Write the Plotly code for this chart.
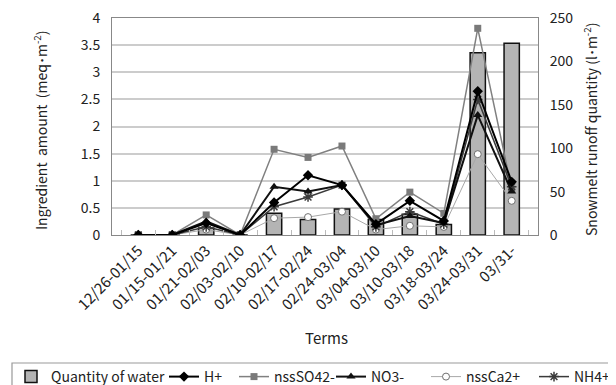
import plotly.graph_objects as go

terms = ["12/26-01/15", "01/15-01/21", "01/21-02/03", "02/03-02/10", "02/10-02/17",
         "02/17-02/24", "02/24-03/04", "03/04-03/10", "03/10-03/18", "03/18-03/24",
         "03/24-03/31", "03/31-"]
water = [0, 0, 8, 0, 25, 18, 30, 18, 24, 12, 210, 221]
h_plus = [0, 0, 0.22, 0, 0.6, 1.1, 0.92, 0.2, 0.63, 0.26, 2.65, 0.98]
nss_so4 = [0, 0, 0.37, 0, 1.58, 1.43, 1.64, 0.3, 0.79, 0.4, 3.81, 0.85]
no3 = [0, 0, 0.25, 0, 0.89, 0.8, 0.92, 0.18, 0.35, 0.22, 2.21, 0.8]
nss_ca = [0, 0, 0.1, 0, 0.31, 0.33, 0.43, 0.1, 0.17, 0.15, 1.49, 0.63]
nh4 = [0, 0, 0.15, 0, 0.52, 0.7, 0.92, 0.15, 0.43, 0.2, 2.5, 0.89]

FONT = "Noto Sans CJK JP"
fig = go.Figure()

fig.add_trace(go.Bar(x=terms, y=water, name="Quantity of water", yaxis="y",
                     marker=dict(color="#b4b4b4", line=dict(color="#111111", width=1.5)),
                     width=0.45, legend="legend", legendrank=1, legendwidth=108))
fig.add_trace(go.Scatter(x=terms, y=nss_ca, name="nssCa2+", yaxis="y2", mode="lines+markers",
                         line=dict(color="#a8a8a8", width=1),
                         marker=dict(symbol="circle", size=7, color="white",
                                     line=dict(color="#707070", width=1)),
                         legend="legend2", legendrank=2, legendwidth=63))
fig.add_trace(go.Scatter(x=terms, y=nss_so4, name="nssSO42-", yaxis="y2", mode="lines+markers",
                         line=dict(color="#808080", width=1.5),
                         marker=dict(symbol="square", size=7, color="#7a7a7a"),
                         legend="legend", legendrank=3, legendwidth=60))
fig.add_trace(go.Scatter(x=terms, y=nh4, name="NH4+", yaxis="y2", mode="lines+markers",
                         line=dict(color="#3a3a3a", width=1.5),
                         marker=dict(symbol="asterisk-open", size=8,
                                     line=dict(color="#222222", width=1.5)),
                         legend="legend2", legendrank=3, legendwidth=38))
fig.add_trace(go.Scatter(x=terms, y=no3, name="NO3-", yaxis="y2", mode="lines+markers",
                         line=dict(color="#111111", width=2),
                         marker=dict(symbol="triangle-up", size=8, color="#111111"),
                         legend="legend2", legendrank=1, legendwidth=50))
fig.add_trace(go.Scatter(x=terms, y=h_plus, name="H+", yaxis="y2", mode="lines+markers",
                         line=dict(color="#000000", width=2),
                         marker=dict(symbol="diamond", size=8, color="#000000"),
                         legend="legend", legendrank=2, legendwidth=25))

# page body has an 8px margin: figure coordinates = screen - 8
def px(fx):
    return (fx - 104) / 426.0

def py(fy):
    return (227 - fy) / 217.0

leg_common = dict(orientation="h", yanchor="middle", xanchor="left",
                  borderwidth=0, bgcolor="rgba(0,0,0,0)", font=dict(size=14),
                  itemwidth=30, traceorder="normal")

fig.update_layout(
    width=608, height=377,
    margin=dict(l=104, r=78, t=10, b=150, autoexpand=False),
    paper_bgcolor="white", plot_bgcolor="white",
    font=dict(family=FONT, size=13, color="#222222"),
    showlegend=True,
    legend=dict(x=px(3), y=py(369), **leg_common),
    legend2=dict(x=px(323), y=py(369), **leg_common),
    xaxis=dict(type="category", tickangle=-45, automargin=False,
               showline=True, linecolor="#888888", linewidth=1, mirror=True,
               ticks="inside", tickson="boundaries", ticklen=5, tickcolor="#bbbbbb",
               tickfont=dict(size=15), showgrid=False),
    yaxis=dict(side="right", range=[0, 250], dtick=50, showgrid=False, automargin=False,
               tickfont=dict(size=14), ticks="", showline=True, linecolor="#888888",
               ticklabeloverflow="allow", ticklabelstandoff=8),
    yaxis2=dict(side="left", overlaying="y", range=[0, 4], dtick=0.5, automargin=False,
                showgrid=True, gridcolor="#cccccc", gridwidth=1.5, zeroline=False,
                tickfont=dict(size=14), ticks="", showline=True, linecolor="#888888",
                ticklabeloverflow="allow", ticklabelstandoff=8),
    shapes=[dict(type="rect", xref="paper", yref="paper",
                 x0=px(4), x1=px(604), y0=py(355), y1=py(384),
                 line=dict(color="#999999", width=1.2), fillcolor="rgba(0,0,0,0)")],
    annotations=[
        dict(text="Terms", x=px(318), y=py(329), xref="paper", yref="paper",
             showarrow=False, font=dict(size=15), yanchor="middle"),
        dict(text="Ingredient  amount  (meq･m<sup>-2</sup>)", x=px(32), y=py(122),
             xref="paper", yref="paper", textangle=-90, showarrow=False,
             font=dict(size=14), xanchor="center", yanchor="middle"),
        dict(text="Snowmelt runoff quantity (l･m<sup>-2</sup>)", x=px(582), y=py(122),
             xref="paper", yref="paper", textangle=-90, showarrow=False,
             font=dict(size=14), xanchor="center", yanchor="middle"),
    ],
)

fig.write_html("out.html")
